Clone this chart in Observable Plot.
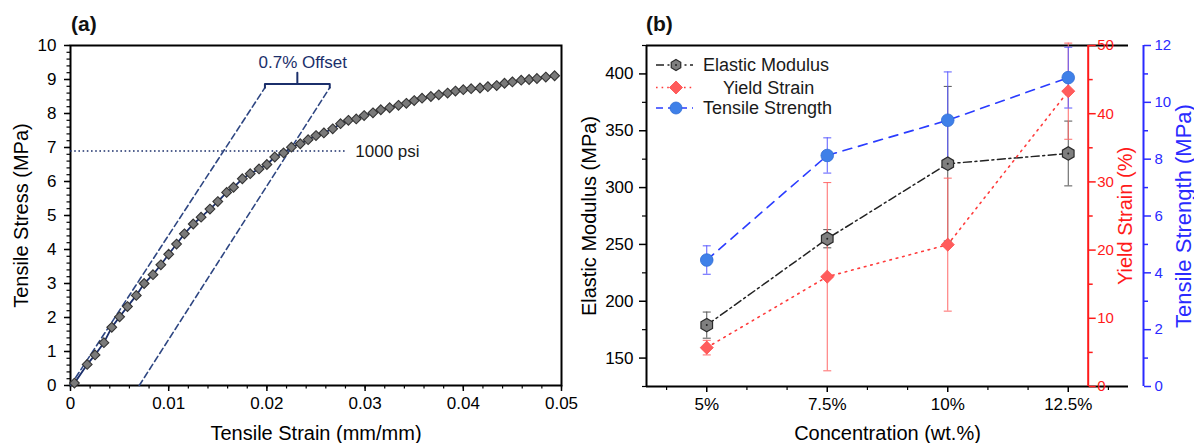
<!DOCTYPE html>
<html>
<head>
<meta charset="utf-8">
<script src="https://cdn.jsdelivr.net/npm/d3@7"></script>
<script src="https://cdn.jsdelivr.net/npm/@observablehq/plot@0.6"></script>
<style>
  body { margin: 0; background: #fff; font-family: "Liberation Sans", Arial, sans-serif; }
  #wrap { position: relative; width: 1194px; height: 443px; overflow: hidden; background: #fff; }
  #pa { position: absolute; left: 0; top: 0; }
  #pb { position: absolute; left: 580px; top: 0; }
  .tag { position: absolute; font-weight: bold; font-size: 21px; color: #111; line-height: 1; }
  #legend { position: absolute; left: 640px; top: 50px; }
</style>
</head>
<body>
<div id="wrap">
  <div id="pa"></div>
  <div id="pb"></div>
  <div class="tag" style="left:71px;top:13px">(a)</div>
  <div class="tag" style="left:646px;top:13px">(b)</div>
  <div id="legend"></div>
</div>
<script>
// ---------- Panel (a) data: stress–strain curve ----------
const strain = [0.0004,0.0017,0.0025,0.0034,0.0042,0.0050,0.0058,0.0067,0.0075,0.0084,0.0092,0.0100,0.0108,0.0116,0.0125,0.0133,0.0142,0.0150,0.0159,0.0166,0.0175,0.0183,0.0192,0.0200,0.0208,0.0217,0.0225,0.0234,0.0242,0.0250,0.0258,0.0267,0.0275,0.0283,0.0291,0.0299,0.0308,0.0316,0.0325,0.0334,0.0342,0.0350,0.0358,0.0367,0.0375,0.0384,0.0392,0.0400,0.0408,0.0417,0.0425,0.0434,0.0442,0.0450,0.0459,0.0467,0.0475,0.0484,0.0493];
const stress = [0.07,0.62,0.90,1.26,1.71,2.02,2.32,2.65,3.00,3.26,3.55,3.86,4.16,4.46,4.75,4.95,5.19,5.41,5.68,5.83,6.08,6.23,6.37,6.50,6.72,6.84,7.01,7.11,7.23,7.35,7.43,7.55,7.70,7.80,7.84,7.94,8.02,8.11,8.17,8.24,8.30,8.38,8.45,8.50,8.55,8.60,8.66,8.70,8.73,8.75,8.79,8.82,8.89,8.93,8.98,9.00,9.03,9.07,9.11];

// 0.7% offset construction lines (strain, stress)
const offsetLineId     = ["elastic", "elastic", "offset", "offset"];
const offsetLineStrain = [0, 0.0198, 0.007, 0.0264];
const offsetLineStress = [0, 8.76, 0, 8.76];
const bracketStrain = [0.0198, 0.0198, 0.0264, 0.0264];
const bracketStress = [8.76, 8.87, 8.87, 8.76];
const stemStrain = [0.0231, 0.0231];
const stemStress = [8.87, 9.2];
const offsetLabel = ["0.7% Offset"]; const offsetLabelStrain = [0.02365]; const offsetLabelStress = [9.5];
// 1000 psi reference
const psiStress = [6.895]; const psiStrainEnd = [0.0280];
const psiLabel = ["1000 psi"]; const psiLabelStrain = [0.0290];

// tick values panel (a)
const aXTicks = [0, 0.01, 0.02, 0.03, 0.04, 0.05];
const aYTicks = [0,1,2,3,4,5,6,7,8,9,10];

// ---------- Panel (b) data ----------
const conc = [5, 7.5, 10, 12.5];
const concLabels = ["5%", "7.5%", "10%", "12.5%"];
const modulus = [179, 255, 321, 330];
const modulusErr = [11.5, 8, 68, 28.5];
const yieldStrain = [5.7, 16.1, 20.8, 43.3];
const yieldErr = [1.07, 13.8, 9.75, 7.05];
const tensile = [4.45, 8.13, 9.37, 10.87];
const tensileErr = [0.5, 0.62, 1.7, 1.07];
const seriesNames = ["Elastic Modulus", "Yield Strain", "Tensile Strength"];

const modTicks = [150, 200, 250, 300, 350, 400];
const yieldTicks = [0, 10, 20, 30, 40, 50];
const tensileTicks = [0, 2, 4, 6, 8, 10, 12];

// ---------- colors ----------
const NAVY = "#1b2f6b", NAVY2 = "#2e4682";
const RED_AX = "#ff1a1a", BLUE_AX = "#2a2aff";
const FONT = "'Liberation Sans', Arial, sans-serif";

// ---------- Panel (a) ----------
const curve = strain.map((s, i) => ({strain: s, stress: stress[i]}));
const offs = offsetLineId.map((id, i) => ({id, strain: offsetLineStrain[i], stress: offsetLineStress[i]}));
const bracket = bracketStrain.map((s, i) => ({strain: s, stress: bracketStress[i]}));
const stem = stemStrain.map((s, i) => ({strain: s, stress: stemStress[i]}));

const minorA_X = d3.range(0, 26).map(i => i * 0.002);
const minorA_Y = d3.range(0, 51).map(i => i * 0.2);

const plotA = Plot.plot({
  width: 580, height: 443,
  marginLeft: 70, marginRight: 19, marginTop: 45, marginBottom: 58,
  style: {fontFamily: FONT, color: "#000", background: "#fff", overflow: "visible"},
  x: {domain: [0, 0.05]},
  y: {domain: [0, 10]},
  marks: [
    Plot.axisX(minorA_X, {tickSize: 3.5, tickFormat: () => "", label: null, strokeWidth: 1.2}),
    Plot.axisX(aXTicks, {tickSize: 6, tickPadding: 5, fontSize: 17, strokeWidth: 1.5,
      tickFormat: d => d === 0 ? "0" : d3.format(".2f")(d), label: null}),
    Plot.axisX([], {label: "Tensile Strain (mm/mm)", labelAnchor: "center", labelArrow: "none", labelOffset: 54, fontSize: 20}),
    Plot.axisY(minorA_Y, {tickSize: 3.5, tickFormat: () => "", label: null, strokeWidth: 1.2}),
    Plot.axisY(aYTicks, {tickSize: 6, tickPadding: 8, fontSize: 17, strokeWidth: 1.5, label: null}),
    Plot.axisY([], {label: "Tensile Stress (MPa)", labelAnchor: "center", labelArrow: "none", labelOffset: 57, fontSize: 20}),
    Plot.frame({stroke: "#000", strokeWidth: 2}),
    // 1000 psi dotted line
    Plot.ruleY(psiStress, {x1: 0, x2: psiStrainEnd[0], stroke: NAVY, strokeWidth: 1.6, strokeDasharray: "1.6,2.6"}),
    Plot.text(psiLabel, {x: psiLabelStrain, y: psiStress, textAnchor: "start", fontSize: 17, fill: "#1a1a1a"}),
    // offset construction
    Plot.line(offs, {x: "strain", y: "stress", z: "id", stroke: NAVY2, strokeWidth: 1.6, strokeDasharray: "6,3.5"}),
    Plot.line(bracket, {x: "strain", y: "stress", stroke: NAVY, strokeWidth: 2}),
    Plot.line(stem, {x: "strain", y: "stress", stroke: NAVY, strokeWidth: 2}),
    Plot.text(offsetLabel, {x: offsetLabelStrain, y: offsetLabelStress, fontSize: 17, fill: NAVY}),
    // curve
    Plot.line(curve, {x: "strain", y: "stress", stroke: NAVY, strokeWidth: 1.8}),
    Plot.dot(curve, {x: "strain", y: "stress", symbol: "diamond2", r: 4.4, fill: "#7a7a7a", stroke: "#333", strokeWidth: 1.1})
  ]
});
document.getElementById("pa").append(plotA);

// ---------- Panel (b) ----------
const Y0 = 125, Y1 = 425;               // left (modulus) scale domain
const toLeftYield = v => Y0 + v / 50 * (Y1 - Y0);
const toLeftTens  = v => Y0 + v / 12 * (Y1 - Y0);
const fromLeftYield = v => (v - Y0) / (Y1 - Y0) * 50;
const fromLeftTens  = v => (v - Y0) / (Y1 - Y0) * 12;

const X0 = 3.75, X1 = 13.75;

const mod = conc.map((c, i) => ({c, v: modulus[i], lo: modulus[i] - modulusErr[i], hi: modulus[i] + modulusErr[i]}));
const ys  = conc.map((c, i) => ({c, v: toLeftYield(yieldStrain[i]), lo: toLeftYield(yieldStrain[i] - yieldErr[i]), hi: toLeftYield(yieldStrain[i] + yieldErr[i])}));
const ts  = conc.map((c, i) => ({c, v: toLeftTens(tensile[i]), lo: toLeftTens(tensile[i] - tensileErr[i]), hi: toLeftTens(tensile[i] + tensileErr[i])}));

const capSymbol = {draw(ctx, size) { const r = Math.sqrt(size / Math.PI); ctx.moveTo(-r, 0); ctx.lineTo(r, 0); }};

function errorMarks(data, color) {
  return [
    Plot.ruleX(data, {x: "c", y1: "lo", y2: "hi", stroke: color, strokeWidth: 1}),
    Plot.dot(data, {x: "c", y: "lo", symbol: capSymbol, r: 4, stroke: color, strokeWidth: 1}),
    Plot.dot(data, {x: "c", y: "hi", symbol: capSymbol, r: 4, stroke: color, strokeWidth: 1})
  ];
}

const minorB_X = d3.range(-1, 11).filter(k => k % 3 !== 0).map(k => 5 + k * 2.5 / 3).filter(v => v > X0 && v < X1);
const minorB_Y = d3.range(125, 426, 50);
const minorYield = [5, 15, 25, 35, 45].map(toLeftYield);
const minorTens = [1, 3, 5, 7, 9, 11].map(toLeftTens);

const plotB = Plot.plot({
  width: 614, height: 443,
  marginLeft: 66, marginRight: 66, marginTop: 45, marginBottom: 57,
  style: {fontFamily: FONT, color: "#000", background: "transparent", overflow: "visible"},
  x: {domain: [X0, X1]},
  y: {domain: [Y0, Y1]},
  marks: [
    // frame lines (open on the right)
    Plot.ruleY([Y0], {stroke: "#000", strokeWidth: 2}),
    Plot.ruleY([Y1], {stroke: "#000", strokeWidth: 2}),
    Plot.ruleX([X0], {stroke: "#000", strokeWidth: 2}),
    // secondary axis lines
    Plot.ruleX([X1], {dx: -40.3, stroke: RED_AX, strokeWidth: 2}),
    Plot.ruleX([X1], {dx: 15, stroke: BLUE_AX, strokeWidth: 2}),
    // x axis
    Plot.axisX(minorB_X, {tickSize: 4, tickFormat: () => "", label: null, strokeWidth: 1.2}),
    Plot.axisX(conc, {tickSize: 6, tickPadding: 5, fontSize: 17, strokeWidth: 1.5, tickFormat: (d, i) => concLabels[conc.indexOf(d)], label: null}),
    Plot.axisX([], {label: "Concentration (wt.%)", labelAnchor: "center", labelArrow: "none", labelOffset: 53, fontSize: 20}),
    // left axis
    Plot.axisY(minorB_Y, {anchor: "left", tickSize: 4, tickFormat: () => "", label: null, strokeWidth: 1.2}),
    Plot.axisY(modTicks, {anchor: "left", tickSize: 7, tickPadding: 6, fontSize: 17, strokeWidth: 1.5, label: null}),
    Plot.axisY([], {anchor: "left", label: "Elastic Modulus (MPa)", labelAnchor: "center", labelArrow: "none", labelOffset: 65, fontSize: 20}),
    // red axis (yield strain)
    Plot.axisY(minorYield, {anchor: "right", dx: -40.3, tickSize: 4, tickFormat: () => "", label: null, color: RED_AX, strokeWidth: 1.5}),
    Plot.axisY(yieldTicks.map(toLeftYield), {anchor: "right", dx: -40.3, tickSize: 7, tickPadding: 2, fontSize: 15, color: RED_AX, strokeWidth: 1.5,
      tickFormat: d => String(Math.round(fromLeftYield(d))), label: null}),
    Plot.axisY([], {anchor: "right", label: "Yield Strain (%)", labelAnchor: "center", labelArrow: "none", labelOffset: 3, fontSize: 20, color: RED_AX}),
    // blue axis (tensile strength)
    Plot.axisY(minorTens, {anchor: "right", dx: 15, tickSize: 4, tickFormat: () => "", label: null, color: BLUE_AX, strokeWidth: 1.5}),
    Plot.axisY(tensileTicks.map(toLeftTens), {anchor: "right", dx: 15, tickSize: 7, tickPadding: 4, fontSize: 15, color: BLUE_AX, strokeWidth: 1.5,
      tickFormat: d => String(Math.round(fromLeftTens(d))), label: null}),
    Plot.axisY([], {anchor: "right", label: "Tensile Strength (MPa)", labelAnchor: "center", labelArrow: "none", labelOffset: 62, fontSize: 22, color: BLUE_AX}),
    // series lines
    Plot.line(mod, {x: "c", y: "v", stroke: "#222", strokeWidth: 1.5, strokeDasharray: "8,3.5,2,3.5"}),
    Plot.line(ys, {x: "c", y: "v", stroke: "#ff3b3b", strokeWidth: 1.6, strokeDasharray: "1.6,5"}),
    Plot.line(ts, {x: "c", y: "v", stroke: "#2a3cff", strokeWidth: 1.6, strokeDasharray: "9,7"}),
    // error bars
    ...errorMarks(mod, "#555"),
    ...errorMarks(ys, "#ff6a6a"),
    ...errorMarks(ts, "#5a5aff"),
    // markers
    Plot.dot(mod, {x: "c", y: "v", symbol: "hexagon", r: 5.8, fill: "#7f7f7f", stroke: "#2a2a2a", strokeWidth: 1.2}),
    Plot.dot(mod, {x: "c", y: "v", r: 1, fill: "#222"}),
    Plot.dot(ys, {x: "c", y: "v", symbol: "diamond2", r: 5.9, fill: "#ff5c5c", stroke: "#ff4a4a", strokeWidth: 0.8}),
    Plot.dot(ts, {x: "c", y: "v", r: 6.3, fill: "#3f80e8", stroke: "#2f6cd6", strokeWidth: 0.8})
  ]
});
document.getElementById("pb").append(plotB);

// ---------- Legend (panel b) ----------
const legendStyles = [
  {dash: "8,3.5,2,3.5", stroke: "#222", marker: "hexagon", fill: "#7f7f7f", mstroke: "#2a2a2a", textDx: 0},
  {dash: "1.6,4", stroke: "#ff3b3b", marker: "diamond", fill: "#ff5c5c", mstroke: "#ff4a4a", textDx: 20},
  {dash: "7,5", stroke: "#2a3cff", marker: "circle", fill: "#3f80e8", mstroke: "#2f6cd6", textDx: 0}
];
const rowY = [15, 37.5, 58];
const lg = d3.select("#legend").append("svg").attr("width", 220).attr("height", 72)
  .style("font-family", FONT);
seriesNames.forEach((name, i) => {
  const s = legendStyles[i], y = rowY[i];
  const g = lg.append("g");
  g.append("line").attr("x1", 16).attr("x2", 53).attr("y1", y).attr("y2", y)
    .attr("stroke", s.stroke).attr("stroke-width", 1.6).attr("stroke-dasharray", s.dash);
  let path;
  if (s.marker === "hexagon") {
    const r = 5.5;
    path = d3.range(6).map(k => { const a = (k * 60 - 90) * Math.PI / 180; return [36 + r * Math.cos(a), y + r * Math.sin(a)]; });
    g.append("polygon").attr("points", path.map(p => p.join(",")).join(" "))
      .attr("fill", s.fill).attr("stroke", s.mstroke).attr("stroke-width", 1.2);
    g.append("circle").attr("cx", 36).attr("cy", y).attr("r", 1).attr("fill", "#222");
  } else if (s.marker === "diamond") {
    const r = 6.5;
    g.append("polygon").attr("points", [[36, y - r], [36 + r, y], [36, y + r], [36 - r, y]].map(p => p.join(",")).join(" "))
      .attr("fill", s.fill).attr("stroke", s.mstroke).attr("stroke-width", 0.8);
  } else {
    g.append("circle").attr("cx", 36).attr("cy", y).attr("r", 6).attr("fill", s.fill).attr("stroke", s.mstroke).attr("stroke-width", 0.8);
  }
  g.append("text").attr("x", 63 + s.textDx).attr("y", y).attr("dy", "0.35em")
    .attr("font-size", 18).attr("fill", "#1a1a1a").text(name);
});
</script>
</body>
</html>
